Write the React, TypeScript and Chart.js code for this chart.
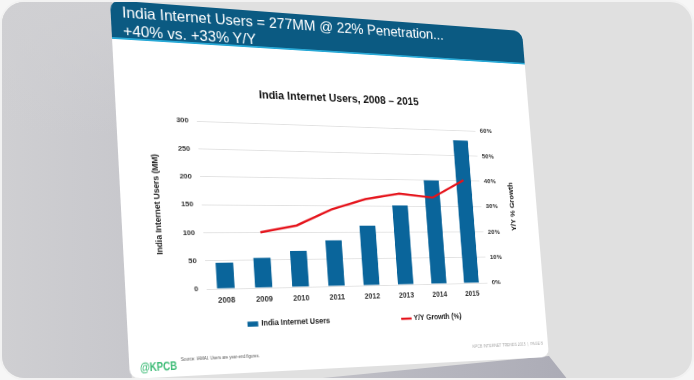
import React, { useEffect, useRef } from 'react';
import { Chart, registerables } from 'chart.js';

Chart.register(...registerables);

// ---------- data ----------
const years = ['2008', '2009', '2010', '2011', '2012', '2013', '2014', '2015'];
const internetUsersMM = [46, 54, 66, 85, 112, 151, 200, 280];
const yoyGrowthPct = [null, 20, 22.5, 28.5, 32.5, 34.7, 33.3, 40.3];
const leftAxisRange = [0, 300, 50];
const rightAxisRange = [0, 60, 10];

const slideTitleLines = ['India Internet Users = 277MM @ 22% Penetration...', '+40% vs. +33% Y/Y'];
const chartTitle = 'India Internet Users, 2008 \u2013 2015';
const leftAxisTitle = 'India Internet Users (MM)';
const rightAxisTitle = 'Y/Y % Growth';
const barLabel = 'India Internet Users';
const lineLabel = 'Y/Y Growth (%)';

// ---------- style ----------
const FONT = '"Liberation Sans", Arial, Helvetica, sans-serif';
const BLUE = '#0a659b';
const RED = '#e5131b';
const HEADER = '#0b5a82';
const SLIDE_W = 500;
const SLIDE_H = 400;
const FRAME_BORDER = 2;
// corners of the slide in the photo: TL, TR, BR, BL
const SLIDE_QUAD: [number, number][] = [[110, 0], [522, 31], [549, 357], [130, 379]];

function quadMatrix(w: number, h: number, q: [number, number][]) {
  const [[x0, y0], [x1, y1], [x2, y2], [x3, y3]] = q;
  const dx1 = x1 - x2, dx2 = x3 - x2, dx3 = x0 - x1 + x2 - x3;
  const dy1 = y1 - y2, dy2 = y3 - y2, dy3 = y0 - y1 + y2 - y3;
  const den = dx1 * dy2 - dx2 * dy1;
  const g = (dx3 * dy2 - dx2 * dy3) / den;
  const hh = (dx1 * dy3 - dx3 * dy1) / den;
  const a = x1 - x0 + g * x1, b = x3 - x0 + hh * x3, c = x0;
  const d = y1 - y0 + g * y1, e = y3 - y0 + hh * y3, f = y0;
  return `matrix3d(${a / w},${d / w},0,${g / w},${b / h},${e / h},0,${hh / h},0,0,1,0,${c},${f},0,1)`;
}

const slideExtras = {
  id: 'slideExtras',
  afterDraw(chart: any) {
    const { ctx, chartArea } = chart;
    ctx.save();
    ctx.font = `bold 9px ${FONT}`;
    ctx.fillStyle = '#222';
    ctx.textAlign = 'center';
    ctx.textBaseline = 'middle';
    ctx.translate(chartArea.right + 42.5, (chartArea.top + chartArea.bottom) / 2);
    ctx.rotate(-Math.PI / 2);
    ctx.fillText(rightAxisTitle, 0, 0);
    ctx.restore();

    ctx.save();
    ctx.font = `bold 8.5px ${FONT}`;
    const dsBar = chart.data.datasets.find((d: any) => d.type === 'bar');
    const dsLine = chart.data.datasets.find((d: any) => d.type === 'line');
    const items = [dsBar, dsLine];
    const mark = 13, markGap = 2.5, itemGap = 86.5;
    const widths = items.map((d: any) => mark + markGap + ctx.measureText(d.label).width);
    const total = widths[0] + itemGap + widths[1];
    const y = chartArea.bottom + 39;
    let x = (chartArea.left + chartArea.right) / 2 - total / 2 + 2.5;
    items.forEach((d: any, i: number) => {
      if (d.type === 'bar') {
        ctx.fillStyle = d.backgroundColor;
        ctx.fillRect(x, y - 2.75, 12, 5.5);
      } else {
        ctx.strokeStyle = d.borderColor;
        ctx.lineWidth = 2.5;
        ctx.beginPath();
        ctx.moveTo(x, y);
        ctx.lineTo(x + 13, y);
        ctx.stroke();
      }
      ctx.fillStyle = '#222';
      ctx.textAlign = 'left';
      ctx.textBaseline = 'middle';
      ctx.fillText(d.label, x + mark + markGap, y);
      x += widths[i] + itemGap;
    });
    ctx.restore();
  },
};

function ChartBox() {
  const ref = useRef<HTMLCanvasElement>(null);
  useEffect(() => {
    if (!ref.current) return;
    Chart.defaults.font.family = FONT;
    const tickFont = { size: 8, weight: 'bold' as const, family: FONT };
    const chart = new Chart(ref.current, {
      type: 'bar',
      data: {
        labels: years,
        datasets: [
          {
            type: 'line',
            label: lineLabel,
            data: yoyGrowthPct,
            yAxisID: 'y1',
            borderColor: RED,
            backgroundColor: RED,
            borderWidth: 2.5,
            pointRadius: 0,
            tension: 0,
            order: 0,
          } as any,
          {
            type: 'bar',
            label: barLabel,
            data: internetUsersMM,
            yAxisID: 'y',
            backgroundColor: BLUE,
            barPercentage: 0.46,
            categoryPercentage: 1,
            order: 1,
          } as any,
        ],
      },
      options: {
        animation: false,
        responsive: false,
        layout: { padding: { left: 0, right: 0, top: 0, bottom: 30 } },
        plugins: {
          legend: { display: false },
          tooltip: { enabled: false },
          title: {
            display: true,
            text: chartTitle,
            color: '#111',
            font: { size: 12.6, weight: 'bold', family: FONT },
            padding: { top: 7.5, bottom: 24.4 },
          },
        },
        scales: {
          x: {
            grid: { display: false, drawTicks: false },
            border: { display: false },
            ticks: { color: '#333', font: { size: 8.5, weight: 'bold', family: FONT }, padding: 7.4 },
            afterFit: (s: any) => { s.height = 31; },
          },
          y: {
            position: 'left',
            min: leftAxisRange[0],
            max: leftAxisRange[1],
            ticks: { stepSize: leftAxisRange[2], color: '#333', font: tickFont, padding: 9 },
            grid: { color: '#e2e2e2', drawTicks: false, lineWidth: 1 },
            border: { display: false },
            title: {
              display: true,
              text: leftAxisTitle,
              color: '#222',
              font: { size: 9, weight: 'bold', family: FONT },
              padding: { top: 13.2, bottom: 0 },
            },
            afterFit: (s: any) => { s.width = 66; },
          },
          y1: {
            position: 'right',
            min: rightAxisRange[0],
            max: rightAxisRange[1],
            ticks: { stepSize: rightAxisRange[2], color: '#333', font: tickFont, padding: 6, callback: (v: any) => `${v}%` },
            grid: { display: false, drawTicks: false },
            border: { display: false },
            afterFit: (s: any) => { s.width = 65.5; },
          },
        },
      },
      plugins: [slideExtras],
    });
    return () => chart.destroy();
  }, []);
  return <canvas ref={ref} width={470} height={290} style={{ display: 'block' }} />;
}

export default function App() {
  const quad = SLIDE_QUAD.map(([x, y]) => [x - FRAME_BORDER, y - FRAME_BORDER] as [number, number]);
  const m = quadMatrix(SLIDE_W, SLIDE_H, quad);
  return (
    <div style={{ position: 'fixed', left: 0, top: 0, width: 694, height: 380, background: '#f6f6f6' }}>
      <div
        style={{
          position: 'absolute', left: 0, top: 0, width: 694, height: 380, boxSizing: 'border-box',
          border: `${FRAME_BORDER}px solid #f2f2f2`, borderRadius: 24, background: '#e0e0e0', overflow: 'hidden',
        }}
      >
        <div
          style={{
            position: 'absolute', left: 0, top: 0, width: 694, height: 380,
            clipPath: 'polygon(0px 0px, 110px 0px, 130px 380px, 0px 380px)',
            background: 'linear-gradient(to bottom, rgba(208,208,211,0.9) 0%, rgba(208,208,211,0) 35%), linear-gradient(to right, #cfcfd2 0%, #a6a6b2 100%)',
          }}
        />
        <div
          style={{
            position: 'absolute', left: 0, top: 0, width: 694, height: 380,
            clipPath: 'polygon(300px 378px, 547px 354px, 566px 378px)',
            background: 'linear-gradient(to right, rgba(166,166,178,0) 0%, rgba(166,166,178,0.7) 60%, #a2a2ae 100%)',
          }}
        />
        <div
          style={{
            position: 'absolute', left: 0, top: 0, width: SLIDE_W, height: SLIDE_H, transformOrigin: '0 0',
            transform: m, background: '#fff', borderRadius: 10, overflow: 'hidden', fontFamily: FONT,
          }}
        >
          <div style={{ position: 'absolute', left: 0, top: 0, width: SLIDE_W, height: 40, background: HEADER, borderTopRightRadius: 12 }} />
          <div style={{ position: 'absolute', left: 0, top: 40, width: SLIDE_W, height: 2, background: '#29a9d6' }} />
          <div style={{ position: 'absolute', left: 12, top: 2, color: '#fff', fontSize: 16.5, lineHeight: '20px', whiteSpace: 'nowrap' }}>
            {slideTitleLines.map((t) => <div key={t}>{t}</div>)}
          </div>
          <div style={{ position: 'absolute', left: 20, top: 80, width: 470, height: 290 }}>
            <ChartBox />
          </div>
          <div style={{ position: 'absolute', left: 11, top: 382, color: '#3dbb76', fontWeight: 'bold', fontSize: 13, lineHeight: '14px', transform: 'scaleX(0.78)', transformOrigin: '0 0', whiteSpace: 'nowrap' }}>
            @KPCB
          </div>
          <div style={{ position: 'absolute', left: 54, top: 380, color: '#555', fontSize: 4.5, lineHeight: '5px', whiteSpace: 'nowrap' }}>
            Source: IAMAI. Users are year-end figures.
          </div>
          <div style={{ position: 'absolute', right: 7, top: 381, color: '#aaa', fontSize: 4.8, lineHeight: '5px', whiteSpace: 'nowrap' }}>
            KPCB INTERNET TRENDS 2015 &nbsp;|&nbsp; PAGE 8
          </div>
        </div>
      </div>
    </div>
  );
}
